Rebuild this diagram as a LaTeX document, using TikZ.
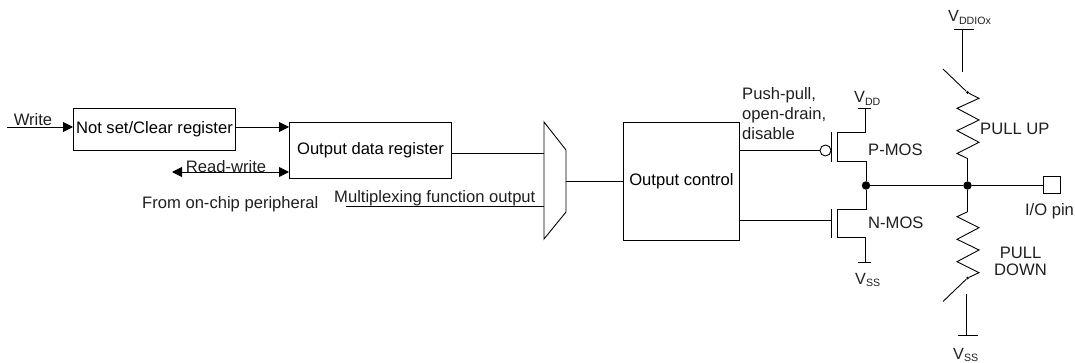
\documentclass[tikz,border=0pt]{standalone}
\usepackage{fontspec}
\setmainfont{Liberation Sans}
\usetikzlibrary{arrows.meta}
\tikzset{
  wire/.style={draw=black,line width=0.9pt},
  arrowed/.style={wire,-{Triangle[length=10pt,width=10pt]}},
  bothways/.style={wire,{Triangle[length=10pt,width=10pt]}-{Triangle[length=10pt,width=10pt]}},
  blockbox/.style={draw=black,line width=0.9pt,anchor=north west,inner sep=0pt,font=\fontsize{16.6}{19}\selectfont,align=center},
  lbl/.style={inner sep=0pt,font=\fontsize{16.6}{20}\selectfont,text=black!88},
  subl/.style={inner sep=0pt,font=\fontsize{16.2}{19}\selectfont,text=black!88},
  bigdot/.style={circle,fill=black,inner sep=0pt,minimum size=8.5pt},
  tinydot/.style={circle,fill=black,inner sep=0pt,minimum size=3pt},
  bubble/.style={circle,draw=black,fill=white,line width=0.9pt,inner sep=0pt,minimum size=11pt},
  pinbox/.style={rectangle,draw=black,line width=0.9pt,inner sep=0pt,minimum size=17pt}
}
\newcommand{\subs}[2]{\raisebox{-#1pt}{\fontsize{10.6}{11}\selectfont #2}}
\begin{document}
\begin{tikzpicture}[x=1pt,y=-1pt]
\useasboundingbox (0,0) rectangle (1075,363);
% blocks
\node[blockbox,minimum width=162pt,minimum height=42pt] (notset) at (73,108) {\raisebox{-1.5pt}{Not set/Clear register}};
\node[blockbox,minimum width=162pt,minimum height=56pt] (odr) at (289,122) {\raisebox{-0.5pt}{Output data register}};
\node[blockbox,minimum width=116pt,minimum height=117.5pt] (octl) at (623,122.3) {\raisebox{-1pt}{Output control}};
% mux
\coordinate (m1) at (544,122); \coordinate (m2) at (566,150); \coordinate (m3) at (566,212); \coordinate (m4) at (544,239);
\draw[wire,line join=miter] (m1)--(m2)--(m3)--(m4)--cycle;
% left side
\coordinate (wstart) at (7,127);
\draw[arrowed] (wstart) -- (notset.west |- wstart);
\node[lbl,anchor=base] (twrite) at (33,125.5) {Write};
\draw[arrowed] (notset.east |- wstart) -- (odr.west |- wstart);
\coordinate (rw) at (172,172);
\draw[bothways] (rw) -- (odr.west |- rw);
\node[lbl,anchor=base] (trw) at (226,172.5) {Read-write};
\node[lbl,anchor=base west] (tfrom) at (142,209) {From on-chip peripheral};
\node[lbl,anchor=base west] (tmux) at (334,203) {Multiplexing function output};
\coordinate (mstart) at (346,206.7);
\draw[wire] (mstart) -- (m1 |- mstart);
\coordinate (odrout) at (451,153);
\draw[wire] (odrout) -- (m1 |- odrout);
\coordinate (mout) at (566,181);
\draw[wire] (mout) -- (octl.west |- mout);
% transistors
\node[bubble] (bub) at (825.5,150.5) {};
\draw[wire] (octl.east |- bub) -- (bub.west);
\coordinate (pg1) at (831,132); \coordinate (pg2) at (831,162);
\draw[wire] (pg1) -- (pg2);
\coordinate (pc1) at (837,132.5); \coordinate (pc2) at (837,161);
\coordinate (vddtop) at (865,108.5);
\node[bigdot] (jn) at (866,185.5) {};
\draw[wire] (pc1 |- pg1) -- (pc2);
\draw[wire] (pc1) -- (pc1 -| vddtop) -- (vddtop);
\draw[wire] (858,108.5) -- (871,108.5);
\draw[wire] (pc2) -- (pc2 -| jn) -- (jn);
\coordinate (ng1) at (831,209); \coordinate (ng2) at (831,238);
\draw[wire] (ng1) -- (ng2);
\coordinate (nc1) at (837,209); \coordinate (nc2) at (837,237);
\coordinate (vssbot) at (865,262);
\draw[wire] (nc1) -- (nc2);
\draw[wire] (nc1) -- (nc1 -| jn) -- (jn);
\draw[wire] (nc2) -- (nc2 -| vssbot) -- (vssbot);
\draw[wire] (858,262) -- (871,262);
\coordinate (ngin) at (831,220.5);
\draw[wire] (octl.east |- ngin) -- (ngin);
\node[lbl,anchor=north west,align=left] (tpush) at (742,87) {Push-pull,\\open-drain,\\disable};
\node[subl,anchor=base west] (tvdd) at (854,103) {V\subs{2.5}{DD}};
\node[subl,anchor=base west] (tvss1) at (855,284) {V\subs{2}{SS}};
\node[lbl,anchor=base west] (tpmos) at (868,156) {P-MOS};
\node[lbl,anchor=base west] (tnmos) at (868,229) {N-MOS};
% output line
\node[bigdot] (jr) at (967.5,185.5) {};
\node[pinbox] (pin) at (1051.5,185) {};
\draw[wire] (jn) -- (jr) -- (pin.west |- jr);
\node[lbl,anchor=base] (tio) at (1049.5,216) {I/O pin};
% pull up
\node[tinydot] (su) at (967.5,92.5) {};
\draw[wire,line join=miter] (jr) -- (967.5,158.5) -- (957,153.5) -- (979,142.3) -- (957,130.7) -- (979,120) -- (957,108.3) -- (979,98.3) -- (su) -- (943,69);
\coordinate (ut) at (962.3,29.5); \coordinate (ub) at (962.3,71.7);
\draw[wire] (ub) -- (ut);
\draw[wire] (954,29.5) -- (974,29.5);
\node[subl,anchor=base west] (tvddio) at (948,21.7) {V\subs{3}{DDIOx}};
\node[lbl,anchor=base west] (tup) at (980,135) {PULL UP};
% pull down
\node[tinydot] (sd) at (967.5,278) {};
\draw[wire,line join=miter] (jr) -- (967.5,211.7) -- (957,216.7) -- (979,227.7) -- (957,239.3) -- (979,250) -- (957,261.7) -- (979,272.7) -- (sd) -- (943,301.5);
\coordinate (dt) at (966.7,294); \coordinate (db) at (966.7,335.5);
\draw[wire] (dt) -- (db);
\draw[wire] (958,335.5) -- (978,335.5);
\node[subl,anchor=base west] (tvss2) at (953,359.5) {V\subs{2}{SS}};
\node[lbl,anchor=north,align=center] (tdown) at (1020.5,247) {PULL\\[-3pt]DOWN};
\end{tikzpicture}
\end{document}
